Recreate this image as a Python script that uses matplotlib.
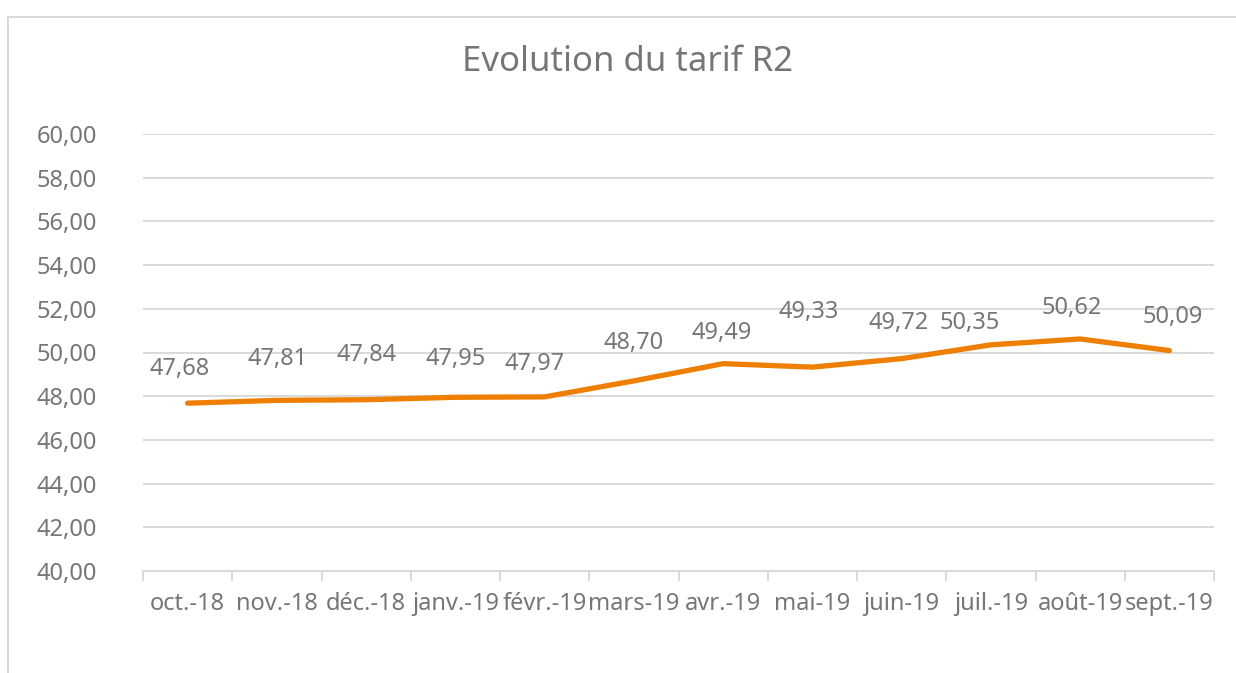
import matplotlib
matplotlib.use('Agg')
import matplotlib.pyplot as plt
from matplotlib.patches import Rectangle
from matplotlib.ticker import FixedLocator, FuncFormatter

months = ['oct.-18', 'nov.-18', 'déc.-18', 'janv.-19', 'févr.-19', 'mars-19',
          'avr.-19', 'mai-19', 'juin-19', 'juil.-19', 'août-19', 'sept.-19']
tarif = [47.68, 47.81, 47.84, 47.95, 47.97, 48.70,
         49.49, 49.33, 49.72, 50.35, 50.62, 50.09]

# hand-placed label offsets (pixels) like the original sheet
label_dx = [-8, 1, 0, 0, -10, 0, -1, -4, -3, -21, -8, 3]
label_dy = [36, 43, 47, 40, 35, 40, 33, 57, 38, 24, 33, 36]

grey = '#767676'
grid_col = '#d9d9d9'
orange = '#EE7F00'

plt.rcParams['font.family'] = ['Noto Sans', 'DejaVu Sans']

fig = plt.figure(figsize=(12.36, 6.73), dpi=100)
ax = fig.add_axes([143 / 1236, 1 - 571 / 673, 1071 / 1236, 437 / 673])

x = list(range(len(months)))
ax.plot(x, tarif, color=orange, lw=3.8, solid_capstyle='round',
        solid_joinstyle='round', zorder=3)

for i, v in enumerate(tarif):
    ax.annotate(f'{v:.2f}'.replace('.', ','), (i, v),
                xytext=(label_dx[i], label_dy[i] - 2), textcoords='offset pixels',
                ha='center', va='center', fontsize=17, color=grey)

ax.set_xlim(-0.5, len(months) - 0.5)
ax.set_ylim(40, 60)
ax.set_yticks(range(40, 61, 2))
ax.yaxis.set_major_formatter(FuncFormatter(lambda v, p: f'{v:.2f}'.replace('.', ',')))
ax.set_xticks(x)
ax.set_xticklabels(months)
ax.xaxis.set_minor_locator(FixedLocator([i - 0.5 for i in range(len(months) + 1)]))

ax.tick_params(axis='x', which='major', length=0, pad=15, labelsize=17, labelcolor=grey)
ax.tick_params(axis='x', which='minor', length=7, width=1.4, color=grid_col)
ax.tick_params(axis='y', length=0, pad=33, labelsize=17, labelcolor=grey)

ax.grid(axis='y', color=grid_col, lw=1.4)
ax.set_axisbelow(True)
for s in ['top', 'right', 'left']:
    ax.spines[s].set_visible(False)
ax.spines['bottom'].set_color(grid_col)
ax.spines['bottom'].set_linewidth(1.4)

fig.text(627 / 1236, 1 - 62 / 673, 'Evolution du tarif R2', ha='center', va='center',
         fontsize=25, color=grey)

# chart area frame
fig.patches.append(Rectangle((8 / 1236, -0.1), 1.2, 1.1 - 17 / 673,
                             transform=fig.transFigure, fill=False,
                             edgecolor=grid_col, lw=1.4))

fig.savefig('out.png', dpi=100)
